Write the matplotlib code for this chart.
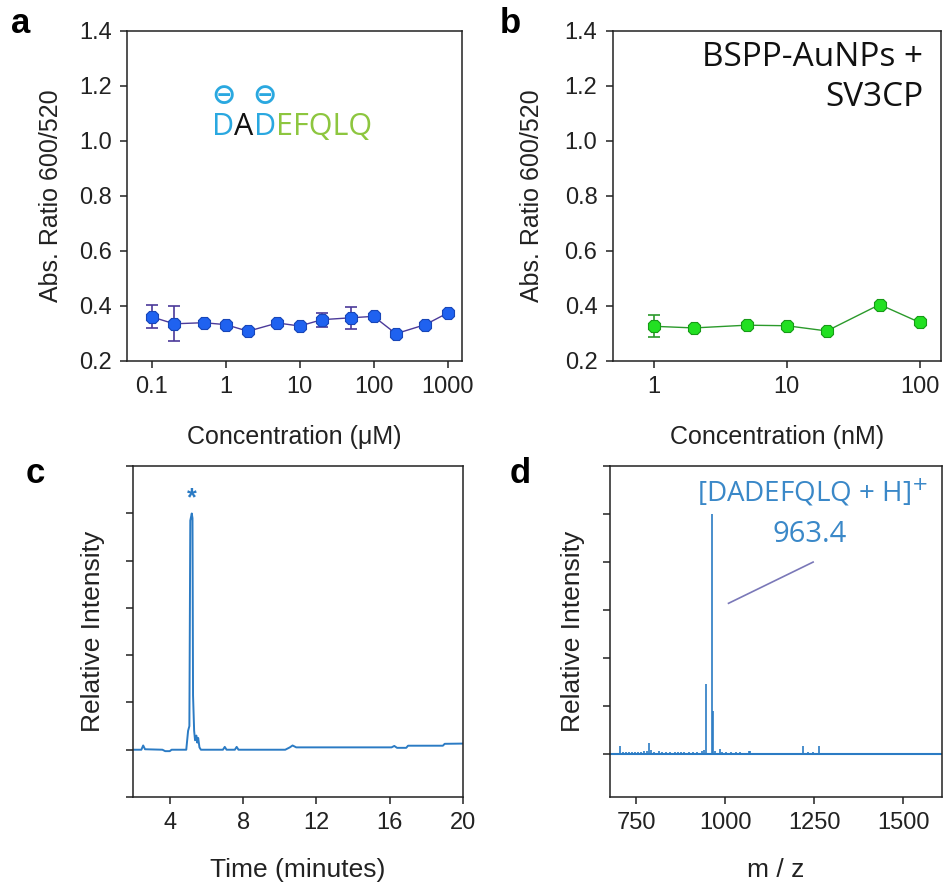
import matplotlib

matplotlib.use("Agg")
import matplotlib.pyplot as plt
from matplotlib.ticker import FixedLocator, NullLocator, NullFormatter

plt.rcParams["font.family"] = ["Liberation Sans", "DejaVu Sans"]

# panel a: DADEFQLQ titration (uM)
conc_a = [0.1, 0.2, 0.5, 1, 2, 5, 10, 20, 50, 100, 200, 500, 1000]
ratio_a = [0.360, 0.335, 0.339, 0.332, 0.308, 0.338, 0.327, 0.350, 0.357, 0.362, 0.299, 0.332, 0.374]
err_a = [0.042, 0.063, 0.008, 0.006, 0.006, 0.006, 0.006, 0.026, 0.040, 0.006, 0.010, 0.006, 0.006]

# panel b: BSPP-AuNPs + SV3CP (nM)
conc_b = [1, 2, 5, 10, 20, 50, 100]
ratio_b = [0.326, 0.320, 0.330, 0.328, 0.309, 0.405, 0.340]
err_b = [0.040, 0.005, 0.005, 0.005, 0.005, 0.005, 0.005]

# panel c: HPLC trace
time_c = [2.0, 2.45, 2.55, 2.65, 3.6, 3.75, 4.0, 4.1, 4.9, 5.0, 5.07, 5.12, 5.2, 5.24, 5.27,
          5.33, 5.38, 5.45, 5.5, 5.55, 5.62, 5.7, 6.9, 7.0, 7.1, 7.55, 7.65, 7.75, 10.3, 10.55,
          10.7, 10.9, 16.1, 16.25, 16.4, 16.9, 17.0, 18.9, 19.0, 20.0]
intens_c = [0.0, 0.0, 0.018, 0.002, 0.0, -0.006, -0.006, 0.0, 0.0, 0.08, 0.10, 0.97, 1.0, 0.98, 0.23,
            0.08, 0.04, 0.06, 0.03, 0.05, 0.01, 0.0, 0.0, 0.012, 0.0, 0.0, 0.012, 0.0, 0.0, 0.01,
            0.018, 0.01, 0.01, 0.016, 0.008, 0.008, 0.017, 0.017, 0.025, 0.026]

# panel d: mass spectrum sticks
mz_d = [705, 712, 720, 728, 736, 745, 753, 762, 772, 780, 786.5, 792, 800, 812, 822, 833, 845,
        858, 866, 874, 885, 897, 910, 921, 934, 941, 946.4, 963.4, 964.4, 970, 985.4, 992, 1003,
        1015, 1030, 1041, 1066, 1070, 1080, 1110, 1156, 1205, 1219, 1234, 1246, 1264, 1306,
        1465, 1483, 1539]
height_d = [0.032, 0.006, 0.007, 0.006, 0.008, 0.006, 0.007, 0.008, 0.011, 0.012, 0.044, 0.014,
            0.007, 0.010, 0.007, 0.006, 0.008, 0.007, 0.006, 0.007, 0.006, 0.007, 0.006, 0.008,
            0.010, 0.017, 0.29, 1.0, 0.18, 0.012, 0.022, 0.008, 0.007, 0.006, 0.007, 0.006,
            0.011, 0.010, 0.005, 0.004, 0.004, 0.004, 0.032, 0.007, 0.008, 0.032, 0.004,
            0.004, 0.004, 0.004]

TRACE = "#2b7bc4"
SPINE = 1.1


def style_box(ax):
    for side in ["top", "right", "bottom", "left"]:
        ax.spines[side].set_linewidth(SPINE)
        ax.spines[side].set_color("#222222")
    ax.tick_params(axis="both", which="major", direction="out", length=5, width=SPINE,
                   labelsize=17, colors="#222222", top=False, right=False, pad=6)
    ax.tick_params(axis="both", which="minor", length=0)


fig = plt.figure(figsize=(9.44, 8.88), dpi=100)
ax_a = fig.add_axes([0.1345, 0.5935, 0.3545, 0.372])
ax_b = fig.add_axes([0.649, 0.5935, 0.348, 0.372])
ax_c = fig.add_axes([0.141, 0.1025, 0.3495, 0.3725])
ax_d = fig.add_axes([0.646, 0.1025, 0.352, 0.3725])

# --- a ---
ax_a.errorbar(conc_a, ratio_a, yerr=err_a, fmt="-", color="#4b3a9a", lw=1.0,
              elinewidth=1.2, capsize=4, capthick=1.2, zorder=2)
ax_a.plot(conc_a, ratio_a, linestyle="none", marker="8", ms=10, mfc="#1f62f0",
          mec="#1846b8", mew=0.8, zorder=3)
ax_a.set_xscale("log")
ax_a.set_xlim(0.046, 1550)
ax_a.set_ylim(0.2, 1.4)
ax_a.xaxis.set_major_locator(FixedLocator([0.1, 1, 10, 100, 1000]))
ax_a.xaxis.set_minor_locator(NullLocator())
ax_a.set_xticklabels(["0.1", "1", "10", "100", "1000"])
ax_a.set_yticks([0.2, 0.4, 0.6, 0.8, 1.0, 1.2, 1.4])
ax_a.set_yticklabels(["0.2", "0.4", "0.6", "0.8", "1.0", "1.2", "1.4"])
ax_a.set_xlabel("Concentration (μM)", fontsize=18, color="#222222")
ax_a.set_ylabel("Abs. Ratio 600/520", fontsize=18, color="#222222")
ax_a.xaxis.set_label_coords(0.5, -0.195)
ax_a.yaxis.set_label_coords(-0.19, 0.5)
style_box(ax_a)

# peptide sequence with charges
seq_parts = [("D", "#2aa8e0"), ("A", "#111111"), ("D", "#2aa8e0"), ("EFQLQ", "#8dc63f")]
prev = ax_a.text(0.255, 0.683, seq_parts[0][0], transform=ax_a.transAxes, fontsize=22,
                 family="Open Sans", color=seq_parts[0][1], va="baseline")
d_texts = [prev]
for s, col in seq_parts[1:]:
    prev = ax_a.annotate(s, xy=(1, 0), xycoords=prev, fontsize=22, family="Open Sans",
                         color=col, va="bottom", ha="left")
    if s == "D":
        d_texts.append(prev)
for t in d_texts:
    ax_a.annotate("⊖", xy=(0.5, 1), xycoords=t, xytext=(0, 2), textcoords="offset points",
                  ha="center", va="bottom", fontsize=21, family="DejaVu Sans",
                  color="#2aa8e0", fontweight="bold")

# --- b ---
ax_b.errorbar(conc_b, ratio_b, yerr=err_b, fmt="-", color="#2b9a2b", lw=1.0,
              elinewidth=1.2, capsize=4, capthick=1.2, zorder=2)
ax_b.plot(conc_b, ratio_b, linestyle="none", marker="8", ms=10, mfc="#22e022",
          mec="#179a17", mew=0.8, zorder=3)
ax_b.set_xscale("log")
ax_b.set_xlim(0.49, 145)
ax_b.set_ylim(0.2, 1.4)
ax_b.xaxis.set_major_locator(FixedLocator([1, 10, 100]))
ax_b.xaxis.set_minor_locator(NullLocator())
ax_b.set_xticklabels(["1", "10", "100"])
ax_b.set_yticks([0.2, 0.4, 0.6, 0.8, 1.0, 1.2, 1.4])
ax_b.set_yticklabels(["0.2", "0.4", "0.6", "0.8", "1.0", "1.2", "1.4"])
ax_b.set_xlabel("Concentration (nM)", fontsize=18, color="#222222")
ax_b.set_ylabel("Abs. Ratio 600/520", fontsize=18, color="#222222")
ax_b.xaxis.set_label_coords(0.5, -0.195)
ax_b.yaxis.set_label_coords(-0.21, 0.5)
ax_b.text(0.945, 0.97, "BSPP-AuNPs +\nSV3CP", transform=ax_b.transAxes, ha="right", va="top",
          fontsize=24, family="Open Sans", color="#111111", linespacing=1.3)
style_box(ax_b)

# --- c ---
ax_c.plot(time_c, intens_c, color=TRACE, lw=1.4)
ax_c.set_xlim(2, 20)
ax_c.set_ylim(-0.2, 1.2)
ax_c.set_xticks([4, 8, 12, 16, 20])
ax_c.set_xticklabels(["4", "8", "12", "16", "20"])
ax_c.set_yticks([-0.2, 0.0, 0.2, 0.4, 0.6, 0.8, 1.0, 1.2])
ax_c.yaxis.set_major_formatter(NullFormatter())
ax_c.set_xlabel("Time (minutes)", fontsize=19, color="#222222")
ax_c.set_ylabel("Relative Intensity", fontsize=19, color="#222222")
ax_c.xaxis.set_label_coords(0.5, -0.185)
ax_c.yaxis.set_label_coords(-0.085, 0.5)
ax_c.text(5.18, 1.065, "*", ha="center", va="center", fontsize=18, color=TRACE,
          fontweight="bold")
style_box(ax_c)

# --- d ---
ax_d.axhline(0, color=TRACE, lw=1.5)
ax_d.vlines(mz_d, 0, height_d, color=TRACE, lw=1.2)
ax_d.set_xlim(675, 1610)
ax_d.set_ylim(-0.18, 1.2)
ax_d.set_xticks([750, 1000, 1250, 1500])
ax_d.set_xticklabels(["750", "1000", "1250", "1500"])
ax_d.set_yticks([0.0, 0.2, 0.4, 0.6, 0.8, 1.0, 1.2])
ax_d.yaxis.set_major_formatter(NullFormatter())
ax_d.set_xlabel("m / z", fontsize=19, color="#222222")
ax_d.set_ylabel("Relative Intensity", fontsize=19, color="#222222")
ax_d.xaxis.set_label_coords(0.5, -0.185)
ax_d.yaxis.set_label_coords(-0.075, 0.5)
ax_d.plot([1009, 1247], [0.628, 0.80], color="#7a78b8", lw=1.2)
ax_d.text(1245, 1.09, "[DADEFQLQ + H]$^{+}$", ha="center", va="center", fontsize=20,
          family="Open Sans", color="#3a88c8")
ax_d.text(1238, 0.913, "963.4", ha="center", va="center", fontsize=21,
          family="Open Sans", color="#3a88c8")
style_box(ax_d)

# panel letters
for x, y, s in [(0.012, 0.963, "a"), (0.529, 0.963, "b"), (0.027, 0.456, "c"), (0.54, 0.456, "d")]:
    fig.text(x, y, s, fontsize=25, fontweight="bold", color="black", ha="left", va="baseline")

fig.savefig("out.png", dpi=100, facecolor="white")
